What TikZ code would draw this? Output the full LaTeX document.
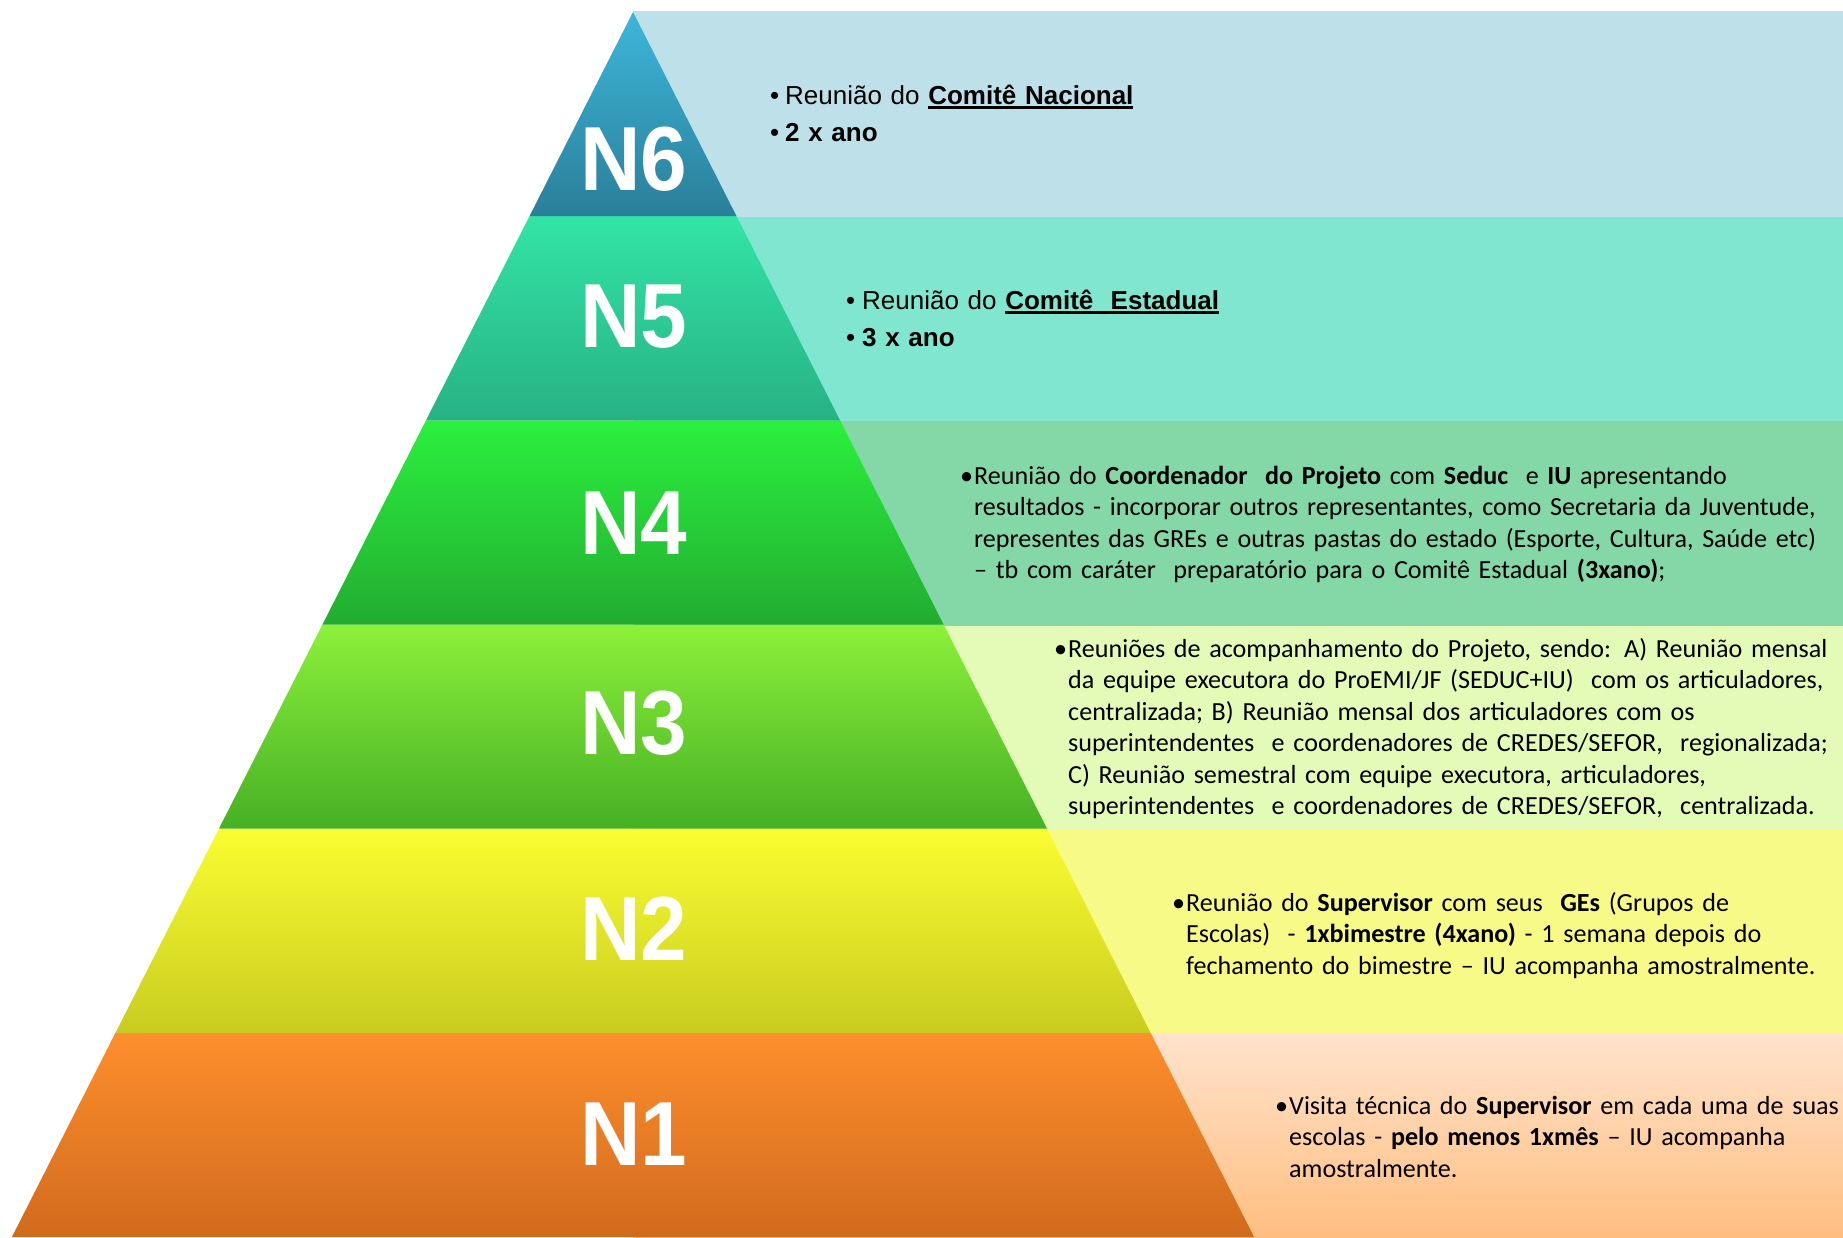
\documentclass[tikz,border=0pt]{standalone}
\usepackage{fontspec}
\setmainfont{Carlito}
\newfontfamily\arialfont{Liberation Sans}
\newfontfamily\narrowfont[FakeStretch=0.92]{Liberation Sans}

% Farben der Stufen
\definecolor{n6top}{HTML}{3DB6DA}\definecolor{n6bot}{HTML}{2A7F99}\definecolor{n6bg}{HTML}{BEE0E9}
\definecolor{n5top}{HTML}{33E4A6}\definecolor{n5bot}{HTML}{27B184}\definecolor{n5bg}{HTML}{80E6CF}
\definecolor{n4top}{HTML}{2BF03D}\definecolor{n4bot}{HTML}{22AC31}\definecolor{n4bg}{HTML}{84D7A7}
\definecolor{n3top}{HTML}{8DF03A}\definecolor{n3bot}{HTML}{45B024}\definecolor{n3bg}{HTML}{E3FBB6}
\definecolor{n2top}{HTML}{FAFD30}\definecolor{n2bot}{HTML}{C8CC20}\definecolor{n2bg}{HTML}{F8FA87}
\definecolor{n1top}{HTML}{FF8F2D}\definecolor{n1bot}{HTML}{D06A1C}\definecolor{n1bgtop}{HTML}{FFE3CC}\definecolor{n1bgbot}{HTML}{FFBE80}

\tikzset{
  lvl/.style={font=\narrowfont\bfseries\fontsize{91}{91}\selectfont, text=white, inner sep=0pt},
  arialtxt/.style={anchor=base west, inner sep=0pt, text width=1000pt,
    font=\arialfont\fontsize{26}{37}\selectfont},
  calitxt/.style={anchor=base west, inner sep=0pt, text width=1000pt,
    font=\fontsize{26.1}{31.5}\selectfont}
}
\newcommand{\bul}[1]{\leftskip=#1\hspace*{-#1}\makebox[#1][l]{\textbullet}}
\newsavebox{\ulbox}
\newcommand{\thickul}[1]{\sbox{\ulbox}{#1}\rlap{\rule[-4.5pt]{\wd\ulbox}{2.2pt}}\usebox{\ulbox}}

\begin{document}
\begin{tikzpicture}[x=1pt,y=-1pt]
	\useasboundingbox (0,0) rectangle (1843,1237);
	% Streifen rechts
	\foreach \lvl/\bgtop/\bgbot in {1/n1bgtop/n1bgbot,2/n2bg/n2bg,3/n3bg/n3bg,4/n4bg/n4bg,5/n5bg/n5bg,6/n6bg/n6bg} {
		\pgfmathsetmacro\yt{1237-204.17*\lvl}
		\pgfmathsetmacro\yb{\yt+204.17}
		\shade[top color=\bgtop, bottom color=\bgbot] (633,\yt-0.5) rectangle (1843,\yb+0.5);
	}
	% Pyramide
	\foreach \lvl/\ctop/\cbot in {1/n1top/n1bot,2/n2top/n2bot,3/n3top/n3bot,4/n4top/n4bot,5/n5top/n5bot,6/n6top/n6bot} {
		\pgfmathsetmacro\yt{1237-204.17*\lvl}
		\pgfmathsetmacro\yb{\yt+204.17}
		\pgfmathsetmacro\wt{(\yt-12)*0.507}
		\pgfmathsetmacro\wb{(\yb-12)*0.507}
		\shade[top color=\ctop, bottom color=\cbot] (633-\wt,\yt) -- (633+\wt,\yt) -- (633+\wb,\yb) -- (633-\wb,\yb) -- cycle;
	}
	% Stufen beschriften
	\node[lvl] (n6) at (634,159) {N6};
	\node[lvl] (n5) at (634,317) {N5};
	\node[lvl] (n4) at (634,523) {N4};
	\node[lvl] (n3) at (634,723) {N3};
	\node[lvl] (n2) at (634,929) {N2};
	\node[lvl] (n1) at (634,1134) {N1};
	% Texte
	\node[arialtxt] (t6) at (770,104) {\makebox[15pt][l]{\textbullet}Reunião do \textbf{\thickul{Comitê Nacional}}\\
		\makebox[15pt][l]{\textbullet}\textbf{2 x ano}};
	\node[arialtxt] (t5) at (846,309) {\makebox[16pt][l]{\textbullet}Reunião do \textbf{\thickul{Comitê\ \ Estadual}}\\
		\makebox[16pt][l]{\textbullet}\textbf{3 x ano}};
	\node[calitxt] (t4) at (960,484) {\bul{14pt}Reunião do \textbf{Coordenador\ \ do Projeto} com \textbf{Seduc}\ \ e \textbf{IU} apresentando\\
		resultados - incorporar outros representantes, como Secretaria da Juventude,\\
		representes das GREs e outras pastas do estado (Esporte, Cultura, Saúde etc)\\
		– tb com caráter\ \ preparatório para o Comitê Estadual \textbf{(3xano)};\par};
	\node[calitxt] (t3) at (1054,657) {\bul{14pt}Reuniões de acompanhamento do Projeto, sendo: A) Reunião mensal\\
		da equipe executora do ProEMI/JF (SEDUC+IU)\ \ com os articuladores,\\
		centralizada; B) Reunião mensal dos articuladores com os\\
		superintendentes\ \ e coordenadores de CREDES/SEFOR,\ \ regionalizada;\\
		C) Reunião semestral com equipe executora, articuladores,\\
		superintendentes\ \ e coordenadores de CREDES/SEFOR,\ \ centralizada.\par};
	\node[calitxt] (t2) at (1172,911) {\bul{14pt}Reunião do \textbf{Supervisor} com seus\ \ \textbf{GEs} (Grupos de\\
		Escolas)\ \ - \textbf{1xbimestre (4xano)} - 1 semana depois do\\
		fechamento do bimestre – IU acompanha amostralmente.\par};
	\node[calitxt] (t1) at (1275,1114) {\bul{14pt}Visita técnica do \textbf{Supervisor} em cada uma de suas\\
		escolas - \textbf{pelo menos 1xmês} – IU acompanha\\
		amostralmente.\par};
\end{tikzpicture}
\end{document}
